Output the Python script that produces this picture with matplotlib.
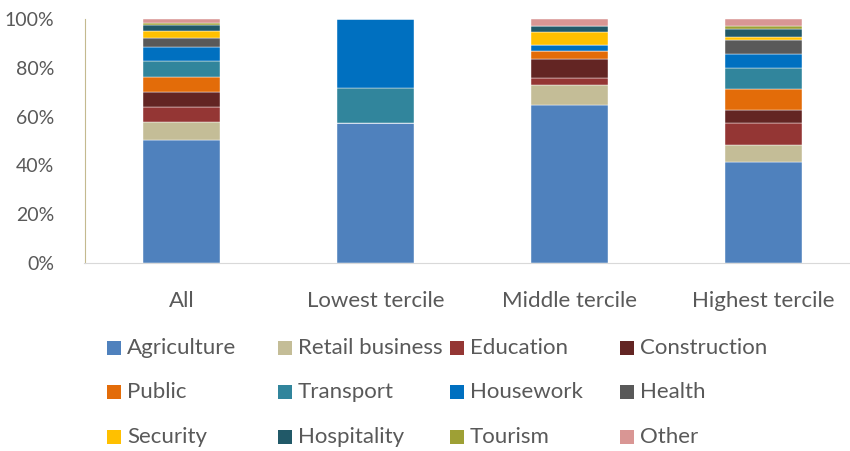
import matplotlib
matplotlib.use("Agg")
import matplotlib.pyplot as plt
import numpy as np
from matplotlib.patches import Rectangle

plt.rcParams['font.family'] = ['Lato', 'DejaVu Sans']

categories = ["All", "Lowest tercile", "Middle tercile", "Highest tercile"]
sectors = ["Agriculture", "Retail business", "Education", "Construction",
           "Public", "Transport", "Housework", "Health",
           "Security", "Hospitality", "Tourism", "Other"]
colors = ["#4f81bd", "#c4bd97", "#943634", "#632523",
          "#e36c09", "#31859c", "#0070c0", "#595959",
          "#ffc000", "#215968", "#9ea035", "#d99694"]

agriculture = [50.4, 57.4, 64.8, 41.4]
retail = [7.3, 0.0, 8.2, 7.1]
education = [6.2, 0.0, 2.9, 8.8]
construction = [6.2, 0.0, 7.9, 5.5]
public = [6.1, 0.0, 2.9, 8.5]
transport = [6.6, 14.3, 0.0, 8.7]
housework = [5.8, 28.3, 2.7, 5.7]
health = [3.5, 0.0, 0.0, 5.7]
security = [2.9, 0.0, 5.3, 1.3]
hospitality = [2.5, 0.0, 2.6, 3.1]
tourism = [1.0, 0.0, 0.0, 1.5]
other = [1.5, 0.0, 2.7, 2.7]

series = [agriculture, retail, education, construction, public, transport,
          housework, health, security, hospitality, tourism, other]

W, H = 850, 451
fig = plt.figure(figsize=(8.5, 4.51), dpi=100)
ax = fig.add_axes([84.5/W, 1-263/H, 776/W, 244/H])

x = np.arange(len(categories))
bottom = np.zeros(len(categories))
for name, vals, c in zip(sectors, series, colors):
    v = np.array(vals)
    ax.bar(x, v, bottom=bottom, width=0.4, color=c, edgecolor="white",
           linewidth=0.3, label=name)
    bottom += v

ax.set_xlim(-0.5, 3.5)
ax.set_ylim(0, 100)
ax.set_yticks(np.arange(0, 101, 20))
ax.set_yticklabels([f"{t}%" for t in range(0, 101, 20)])
ax.set_xticks(x)
ax.set_xticklabels(categories)
ax.tick_params(axis='both', length=0, colors="#595959")
ax.tick_params(axis='y', pad=22, labelsize=14)
ax.tick_params(axis='x', pad=20, labelsize=16)
for s in ["top", "right"]:
    ax.spines[s].set_visible(False)
ax.spines["left"].set_color("#c4b98f")
ax.spines["bottom"].set_color("#d9d9d9")

# legend laid out in 4 columns x 3 rows, row-major
col_x = [107, 278, 450, 620]
row_y = [348, 392, 437]
sq = 14
for i, (name, c) in enumerate(zip(sectors, colors)):
    r, k = divmod(i, 4)
    x0 = col_x[k]
    yc = row_y[r]
    fig.patches.append(Rectangle((x0/W, 1-(yc+sq/2)/H), sq/W, sq/H,
                                 transform=fig.transFigure, facecolor=c,
                                 edgecolor="none"))
    fig.text((x0+sq+6)/W, 1-yc/H, name, ha="left", va="center",
             fontsize=16, color="#595959")

fig.savefig("out.png", dpi=100)
